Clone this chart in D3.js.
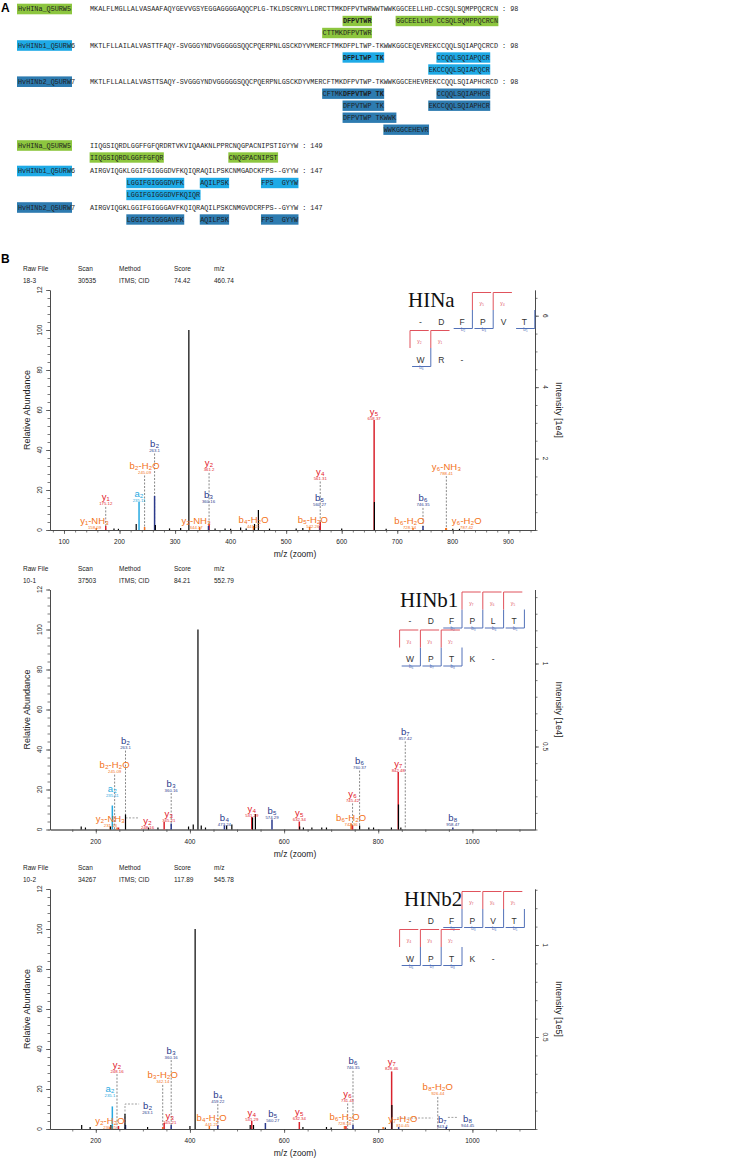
<!DOCTYPE html>
<html><head><meta charset="utf-8">
<script src="https://cdn.jsdelivr.net/npm/d3@7"></script>
<style>body{margin:0;background:#fff}svg{display:block}</style>
</head><body>
<script>
// ================= DATA =================
// ---- Panel A : alignment ----
const seqNames = ["HvHINa_Q5URW5","HvHINb1_Q5URW6","HvHINb2_Q5URW7"];
const seqBlock1 = [
 "MKALFLMGLLALVASAAFAQYGEVVGSYEGGAGGGGAQQCPLG-TKLDSCRNYLLDRCTTMKDFPVTWRWWTWWKGGCEELLHD-CCSQLSQMPPQCRCN",
 "MKTLFLLAILALVASTTFAQY-SVGGGYNDVGGGGGSQQCPQERPNLGSCKDYVMERCFTMKDFPLTWP-TKWWKGGCEQEVREKCCQQLSQIAPQCRCD",
 "MKTLFLLALLALVASTTSAQY-SVGGGYNDVGGGGGSQQCPQERPNLGSCKDYVMERCFTMKDFPVTWP-TKWWKGGCEHEVREKCCQQLSQIAPHCRCD"];
const seqBlock2 = [
 "IIQGSIQRDLGGFFGFQRDRTVKVIQAAKNLPPRCNQGPACNIPSTIGYYW",
 "AIRGVIQGKLGGIFGIGGGDVFKQIQRAQILPSKCNMGADCKFPS--GYYW",
 "AIRGVIQGKLGGIFGIGGGAVFKQIQRAQILPSKCNMGVDCRFPS--GYYW"];
const block1Counts = [98, 98, 98];
const block2Counts = [149, 147, 147];
// identified peptides: [block, protein, line under sequence, start column, text, bold-from offset (-1 = none)]
const peptides = [
 [1,0,1,62,"DFPVTWR",0],
 [1,0,1,75,"GGCEELLHD CCSQLSQMPPQCRCN",-1],
 [1,0,2,57,"CTTMKDFPVTWR",-1],
 [1,1,1,62,"DFPLTWP TK",0],
 [1,1,1,85,"CCQQLSQIAPQCR",-1],
 [1,1,2,83,"EKCCQQLSQIAPQCR",-1],
 [1,2,1,57,"CFTMKDFPVTWP TK",5],
 [1,2,1,85,"CCQQLSQIAPHCR",-1],
 [1,2,2,62,"DFPVTWP TK",-1],
 [1,2,2,83,"EKCCQQLSQIAPHCR",-1],
 [1,2,3,62,"DFPVTWP TKWWK",-1],
 [1,2,4,72,"WWKGGCEHEVR",-1],
 [2,0,1,0,"IIQGSIQRDLGGFFGFQR",-1],
 [2,0,1,34,"CNQGPACNIPST",-1],
 [2,1,1,9,"LGGIFGIGGGDVFK",-1],
 [2,1,1,27,"AQILPSK",-1],
 [2,1,1,42,"FPS  GYYW",-1],
 [2,1,2,9,"LGGIFGIGGGDVFKQIQR",-1],
 [2,2,1,9,"LGGIFGIGGGAVFK",-1],
 [2,2,1,27,"AQILPSK",-1],
 [2,2,1,42,"FPS  GYYW",-1]
];

// ---- Panel B : spectra ----
const headerLabels = ["Raw File","Scan","Method","Score","m/z"];
const headerValues = [
 ["18-3","30535","ITMS; CID","74.42","460.74"],
 ["10-1","37503","ITMS; CID","84.21","552.79"],
 ["10-2","34267","ITMS; CID","117.89","545.78"]];
const specNames = ["HINa","HINb1","HINb2"];
const intensityTitles = ["Intensity [1e4]","Intensity [1e4]","Intensity [1e5]"];
const basePeakIntensity = [5.6, 1.205, 1.087];     // right axis units at 100 %
const rightMajor = [[2,4,6],[0.5,1],[0.5,1]];
const rightMinorStep = [0.5, 0.1, 0.1];
const xTickLabels = [[100,200,300,400,500,600,700,800,900],[200,400,600,800,1000],[200,400,600,800,1000]];
const yTickLabels = [0,20,40,60,80,100,120];
const xDomains = [[74.8,948],[102.7,1133],[102.7,1133]];

// peaks: [m/z, relative abundance, ion type]  (y=y-ion, b=b-ion, a=a-ion, o=neutral loss, k=unassigned)
const peaks1 = [
 [158.09,1,"o"],[175.12,2,"y"],[190,0.8,"k"],[198,0.6,"k"],[230,3,"k"],[235.11,14,"a"],[245.09,1.5,"o"],
 [263.1,17,"b"],[264.5,2.5,"k"],[290,0.8,"k"],[310,1,"k"],[324.8,100,"k"],[344.17,1.5,"o"],[361.2,3,"y"],
 [360.16,2,"b"],[372,0.8,"k"],[390,0.8,"k"],[400,0.6,"k"],[418,1.3,"k"],[428,0.8,"k"],[441.21,2,"o"],
 [443,3,"k"],[450,10,"k"],[470,0.7,"k"],[518,0.7,"k"],[530,1,"k"],[542.26,1.5,"o"],[560.27,2,"b"],
 [561.31,4,"y"],[600,0.8,"k"],[658.37,55,"y"],[658.9,14,"k"],[680,0.6,"k"],[728.34,1,"o"],[746.35,2,"b"],
 [787.42,1,"o"],[788.41,1,"o"],[800,0.6,"k"],[812,0.6,"k"]];
const peaks2 = [
 [169,1.5,"k"],[178,1,"k"],[231,1.5,"k"],[231.13,1.5,"o"],[235.11,12,"a"],[245.09,1,"o"],[248.16,1,"y"],
 [263.1,7.5,"k"],[312,1,"k"],[332,1,"k"],[345.21,3.7,"y"],[360.16,3,"b"],[397,1.5,"k"],[407,2.5,"k"],
 [417,100,"k"],[424,2,"k"],[433,1,"k"],[473.24,2,"b"],[478,2,"k"],[489,2.5,"k"],[531.29,6.3,"y"],
 [533,6,"k"],[539,7.7,"k"],[574.29,5,"b"],[632.34,4,"y"],[633,1.5,"k"],[641,1,"k"],[659,1,"k"],
 [680,1,"k"],[690,1,"k"],[742.36,3,"o"],[745.42,2,"y"],[760.37,2,"k"],[780,1,"k"],[790,1,"k"],
 [828,1,"k"],[842.48,28.7,"y"],[843,12.5,"k"],[848,1,"k"],[958.47,1,"b"]];
const peaks3 = [
 [170,2,"k"],[188,1,"k"],[230.15,1,"o"],[232,2,"k"],[235.11,11.3,"a"],[248.16,1.5,"y"],[262,7.5,"k"],
 [263.1,2,"b"],[310,1,"k"],[342.14,1,"o"],[345.21,3,"y"],[360.16,2,"b"],[400,1.5,"k"],[411,100,"k"],
 [441.21,1.5,"o"],[459.22,2,"b"],[528,2,"k"],[531.29,4,"y"],[535,2,"k"],[560.27,3,"b"],[632.34,3.5,"y"],
 [640,1,"k"],[690,1,"k"],[700,0.8,"k"],[728.34,1.5,"o"],[731.41,1.5,"y"],[746.35,2,"b"],[810.45,1,"o"],
 [815,0.8,"k"],[828.46,28.8,"y"],[829,12,"k"],[843.4,1,"b"],[944.45,1,"b"]];

// annotations: [ion, m/z text, label m/z position, label height (%), type, dashed leader]
const labels1 = [
 ["y₁","175.12",175.12,16.3,"y",true],["y₁-NH₃","158.09",155,4.7,"o",false],
 ["a₂","235.11",235.11,18,"a",false],["b₂-H₂O","245.09",245.09,32,"o",true],
 ["b₂","263.1",263.1,43,"b",true],["y₂","361.2",361.2,33.3,"y",true],
 ["b₃","360.16",360.16,17.5,"b",false],["y₂-NH₃","344.17",338,4.7,"o",false],
 ["b₄-H₂O","441.21",441.21,5,"o",false],["y₄","561.31",561.31,29,"y",true],
 ["b₅","560.27",560.27,15.8,"b",false],["b₅-H₂O","542.26",548,5,"o",false],
 ["y₅","658.37",658.37,59,"y",false],["b₆-H₂O","728.34",722,4.7,"o",false],
 ["b₆","746.35",746.35,15.8,"b",true],["y₆-NH₃","788.41",788.41,31.7,"o",true],
 ["y₆-H₂O","787.42",825,4.7,"o",false]];
const labels2 = [
 ["a₂","235.11",235.11,20.3,"a",false],["b₂-H₂O","245.09",240,32.2,"o",true],
 ["b₂","263.1",263.1,44.2,"b",true],["y₂-NH₃","231.13",231,5.3,"o",false],
 ["y₂","248.16",310,4.2,"y",false],["y₃","345.21",355,7.8,"y",false],
 ["b₃","360.16",360.16,23,"b",true],["b₄","473.24",473.24,5.8,"b",false],
 ["y₄","531.29",531.29,10.5,"y",false],["b₅","574.29",574.29,9.5,"b",false],
 ["y₅","632.34",632.34,8.3,"y",false],["b₆-H₂O","742.36",742.36,5.8,"o",false],
 ["y₆","745.42",745.42,17.8,"y",true],["b₆","760.37",760.37,34.2,"b",true],
 ["y₇","842.48",842.48,32.8,"y",false],["b₇","857.42",857.42,48.8,"b",true],
 ["b₈","958.47",958.47,5.8,"b",false]];
const labels3 = [
 ["a₂","235.1",230,20.2,"a",false],["y₂","248.16",245,32.2,"y",true],
 ["y₂-H₂O","230.15",230,3.8,"o",false],["b₂","263.1",310,11.3,"b",false],
 ["b₃-H₂O","342.14",342.14,26.8,"o",true],["b₃","360.16",360.16,39.2,"b",true],
 ["y₃","345.21",357,6.7,"y",false],["b₄-H₂O","441.21",446,5.5,"o",false],
 ["b₄","459.22",459.22,17.2,"b",true],["y₄","531.29",531.29,8,"y",false],
 ["b₅","560.27",576,7.5,"b",false],["y₅","632.34",632.34,8.5,"y",false],
 ["b₆-H₂O","728.34",728.34,6,"o",false],["y₆","731.41",735,17.5,"y",true],
 ["b₆","746.35",746.35,33.8,"b",true],["y₇","828.46",828.46,33.3,"y",false],
 ["y₇-H₂O","810.45",852,5,"o",false],["b₈-H₂O","926.44",926.44,20.8,"o",true],
 ["b₇","843.4",936,4.3,"b",false],["b₈","944.45",990,5,"b",false]];
// dashed elbow leaders in data units [m/z, %]
const leaders2 = [[[263.1,5.8],[290,5.8]]];
const leaders3 = [[[262,0],[262,12.5],[292,12.5]],[[840,5.5],[915,5.5]],[[948,5.8],[968,5.8]]];

// fragment-map insets
const insetRow1 = [["-","D","F","P","V","T"],["-","D","F","P","L","T"],["-","D","F","P","V","T"]];
const insetRow2 = [["W","R","-"],["W","P","T","K","-"],["W","P","T","K","-"]];
const pepLength = [7, 9, 9];
const bIons = [[2,3,5,6],[2,3,4,5,6,7,8],[2,3,4,5,6,7,8]];
const yIons = [[1,2,4,5],[2,3,4,5,6,7],[2,3,4,5,6,7]];

// ================= DRAWING =================
const W = 733, H = 1163;
const sans = "'Liberation Sans', 'DejaVu Sans', Arial, sans-serif";
const mono = "'Liberation Mono', 'Courier New', 'DejaVu Sans Mono', monospace";
const svg = d3.select("body").append("svg").attr("width", W).attr("height", H)
  .attr("font-family", sans);

// ---------- Panel A ----------
const protColors = ["#8dc63f", "#1eaae6", "#2d7bb0"];
const cw = 4.08, fsMono = 7.3;
const colX = d3.scaleLinear().domain([0, 100]).range([90, 90 + 100 * cw]);
svg.append("text").attr("x", 1).attr("y", 12).attr("font-size", 12).attr("font-weight", "bold").text("A");

const blocks = [
  { seqs: seqBlock1, counts: block1Counts, baseY: [9, 45.5, 81.7], pitch: 12 },
  { seqs: seqBlock2, counts: block2Counts, baseY: [145.5, 171, 207.5], pitch: 12 }];

function monoText(g, x, y, str, boldFrom) {
  const t = g.append("text").attr("x", x).attr("y", y + 2.4)
    .attr("font-family", mono).attr("font-size", fsMono).attr("fill", "#1e1e1e")
    .attr("xml:space", "preserve").style("white-space", "pre")
    .attr("textLength", str.length * cw).attr("lengthAdjust", "spacingAndGlyphs");
  if (boldFrom >= 0) {
    if (boldFrom > 0) t.append("tspan").text(str.slice(0, boldFrom));
    t.append("tspan").attr("font-weight", "bold").text(str.slice(boldFrom));
  } else t.text(str);
  return t;
}

const gA = svg.append("g");
blocks.forEach((blk, bi) => {
  blk.seqs.forEach((s, pi) => {
    const y0 = blk.baseY[pi];
    gA.append("rect").attr("x", 17).attr("y", y0 - 5.3).attr("width", 55).attr("height", 10.6)
      .attr("fill", protColors[pi]);
    monoText(gA, 18, y0, seqNames[pi], -1);
    monoText(gA, colX(0), y0, s + " : " + blk.counts[pi], -1);
  });
});
peptides.forEach(p => {
  const blk = blocks[p[0] - 1];
  const y0 = blk.baseY[p[1]] + p[2] * blk.pitch;
  gA.append("rect").attr("x", colX(p[3]) - 0.4).attr("y", y0 - 5.2)
    .attr("width", p[4].length * cw + 0.8).attr("height", 10.4).attr("fill", protColors[p[1]]);
  monoText(gA, colX(p[3]), y0, p[4], p[5]);
});

// ---------- Panel B ----------
svg.append("text").attr("x", 1).attr("y", 263).attr("font-size", 12).attr("font-weight", "bold").text("B");

const ionColor = { y: "#e2202a", b: "#2b3a8c", a: "#27a9e1", o: "#f37321", k: "#111" };
const peakColor = { y: "#d9232d", b: "#2b3a8c", a: "#27a9e1", o: "#f37321", k: "#000" };
const specTops = [290, 589.5, 889];
const plotH = 240, axL = 50, axR = 535;
const allPeaks = [peaks1, peaks2, peaks3];
const allLabels = [labels1, labels2, labels3];
const allLeaders = [[], leaders2, leaders3];
const subs = "₀₁₂₃₄₅₆₇₈₉";
const sub = n => String(n).split("").map(c => subs[+c]).join("");
const insetX0 = [420.4, 410, 410];
const titleX = [408, 400, 404];
const dx = 20.8;

function styleAxis(g) {
  g.selectAll("path").attr("stroke", "#444").attr("stroke-width", 0.8);
  g.selectAll("line").attr("stroke", "#444").attr("stroke-width", 0.7);
  g.selectAll("text").remove();
}

for (let i = 0; i < 3; i++) {
  const top = specTops[i], zeroY = top + plotH;
  const x = d3.scaleLinear().domain(xDomains[i]).range([axL, axR]);
  const y = d3.scaleLinear().domain([0, 120]).range([zeroY, top]);
  const yR = d3.scaleLinear().domain([0, basePeakIntensity[i] * 1.2]).range([zeroY, top]);
  const g = svg.append("g");

  // header
  const hx = [23, 78, 119, 174, 214];
  headerLabels.forEach((h, k) => {
    g.append("text").attr("x", hx[k]).attr("y", top - 19).attr("font-size", 6.5).attr("fill", "#222").text(h);
    g.append("text").attr("x", hx[k]).attr("y", top - 7).attr("font-size", 6.5).attr("fill", "#222").text(headerValues[i][k]);
  });

  // axes
  const d0 = xDomains[i];
  const minorStepX = i === 0 ? 20 : 50;
  const minorX = d3.range(Math.ceil(d0[0] / minorStepX) * minorStepX, d0[1], minorStepX);
  g.append("g").attr("transform", `translate(0,${zeroY})`)
    .call(d3.axisBottom(x).tickValues(minorX).tickSize(2.5).tickSizeOuter(0).tickFormat(""))
    .call(styleAxis);
  g.append("g").attr("transform", `translate(0,${zeroY})`)
    .call(d3.axisBottom(x).tickValues(xTickLabels[i]).tickSize(4).tickSizeOuter(0))
    .call(styleAxis);
  g.selectAll(null).data(xTickLabels[i]).enter().append("text")
    .attr("x", d => x(d)).attr("y", zeroY + 14).attr("text-anchor", "middle")
    .attr("font-size", 6.5).attr("fill", "#222").text(d => d);
  g.append("text").attr("x", 295).attr("y", zeroY + 27).attr("text-anchor", "middle")
    .attr("font-size", 8.5).attr("fill", "#222").text("m/z (zoom)");

  g.append("g").attr("transform", `translate(${axL},0)`)
    .call(d3.axisLeft(y).tickValues(d3.range(0, 121, 4)).tickSize(2.5).tickSizeOuter(0).tickFormat(""))
    .call(styleAxis);
  g.append("g").attr("transform", `translate(${axL},0)`)
    .call(d3.axisLeft(y).tickValues(yTickLabels).tickSize(4).tickSizeOuter(0))
    .call(styleAxis);
  g.selectAll(null).data(yTickLabels).enter().append("text")
    .attr("transform", d => `translate(${axL - 8},${y(d)}) rotate(-90)`)
    .attr("text-anchor", "middle").attr("font-size", 6.5).attr("fill", "#222")
    .text(d => d === 120 ? "12" : d);
  g.append("text").attr("transform", `translate(${axL - 20},${(top + zeroY) / 2}) rotate(-90)`)
    .attr("text-anchor", "middle").attr("font-size", 9).attr("fill", "#222").text("Relative Abundance");

  const rMax = basePeakIntensity[i] * 1.2;
  const rMinor = d3.range(0, rMax + 1e-9, rightMinorStep[i]);
  g.append("g").attr("transform", `translate(${axR},0)`)
    .call(d3.axisRight(yR).tickValues(rMinor).tickSize(2.5).tickSizeOuter(0).tickFormat(""))
    .call(styleAxis);
  g.append("g").attr("transform", `translate(${axR},0)`)
    .call(d3.axisRight(yR).tickValues(rightMajor[i]).tickSize(4).tickSizeOuter(0))
    .call(styleAxis);
  g.selectAll(null).data(rightMajor[i]).enter().append("text")
    .attr("transform", d => `translate(${axR + 8},${yR(d)}) rotate(90)`)
    .attr("text-anchor", "middle").attr("font-size", 6.5).attr("fill", "#222").text(d => d);
  g.append("text").attr("transform", `translate(${axR + 21},${(top + zeroY) / 2}) rotate(90)`)
    .attr("text-anchor", "middle").attr("font-size", 9).attr("fill", "#222").text(intensityTitles[i]);

  // dashed leaders
  const labs = allLabels[i];
  g.selectAll(null).data(labs.filter(d => d[5])).enter().append("line")
    .attr("x1", d => x(d[2])).attr("x2", d => x(d[2]))
    .attr("y1", d => y(d[3]) + 9.5).attr("y2", zeroY)
    .attr("stroke", "#555").attr("stroke-width", 0.7).attr("stroke-dasharray", "2,1.5");
  const line = d3.line().x(d => x(d[0])).y(d => y(d[1]));
  g.selectAll(null).data(allLeaders[i]).enter().append("path")
    .attr("d", line).attr("fill", "none")
    .attr("stroke", "#777").attr("stroke-width", 0.7).attr("stroke-dasharray", "2,1.5");

  // peaks: coloured first, black on top
  const pk = allPeaks[i];
  const ordered = pk.filter(d => d[2] !== "k").concat(pk.filter(d => d[2] === "k"));
  g.selectAll(null).data(ordered).enter().append("line")
    .attr("x1", d => x(d[0])).attr("x2", d => x(d[0]))
    .attr("y1", zeroY).attr("y2", d => y(d[1]))
    .attr("stroke", d => peakColor[d[2]])
    .attr("stroke-width", d => d[2] === "k" ? 1.2 : 1.5);

  // labels
  const lg = g.selectAll(null).data(labs).enter().append("g")
    .attr("transform", d => `translate(${x(d[2])},${y(d[3])})`);
  lg.append("text").attr("y", 3).attr("text-anchor", "middle").attr("font-size", 9.5)
    .attr("fill", d => ionColor[d[4]]).text(d => d[0]);
  lg.append("text").attr("y", 8).attr("text-anchor", "middle").attr("font-size", 4.3)
    .attr("fill", d => ionColor[d[4]]).text(d => d[1]);

  // inset fragment map
  const x0 = insetX0[i], n = pepLength[i];
  const rowTop = r => top + 2.5 + r * 38;
  const slot = s => s < 6 ? { row: 0, col: s } : { row: 1, col: s - 6 };
  g.append("text").attr("x", titleX[i]).attr("y", top + 17)
    .attr("font-family", "'Liberation Serif', 'Times New Roman', serif").attr("font-size", 21)
    .attr("fill", "#111").text(specNames[i]);
  [insetRow1[i], insetRow2[i]].forEach((row, r) => {
    g.selectAll(null).data(row).enter().append("text")
      .attr("x", (d, c) => x0 + c * dx).attr("y", rowTop(r) + 32)
      .attr("text-anchor", "middle").attr("font-size", 8.5).attr("fill", "#333").text(d => d);
  });
  const red = "#e0525c", blue = "#5271b8";
  bIons[i].forEach(k => {
    const p = slot(k), bx = x0 + (p.col + 0.5) * dx, rt = rowTop(p.row);
    g.append("path").attr("d", `M${bx},${rt + 17.5}V${rt + 36}H${bx - 0.9 * dx}`)
      .attr("fill", "none").attr("stroke", blue).attr("stroke-width", 1);
    g.append("text").attr("x", bx - 0.45 * dx).attr("y", rt + 38.2).attr("text-anchor", "middle")
      .attr("font-size", 4.5).attr("fill", blue).text("b" + sub(k));
  });
  yIons[i].forEach(j => {
    const p = slot(n - j + 1), bx = x0 + (p.col - 0.5) * dx, rt = rowTop(p.row);
    g.append("path").attr("d", `M${bx},${rt + 17.5}V${rt}H${bx + 0.9 * dx}`)
      .attr("fill", "none").attr("stroke", red).attr("stroke-width", 1);
    g.append("text").attr("x", bx + 0.45 * dx).attr("y", rt + 12.5).attr("text-anchor", "middle")
      .attr("font-size", 5).attr("fill", red).text("y" + sub(j));
  });
}
</script>
</body></html>
